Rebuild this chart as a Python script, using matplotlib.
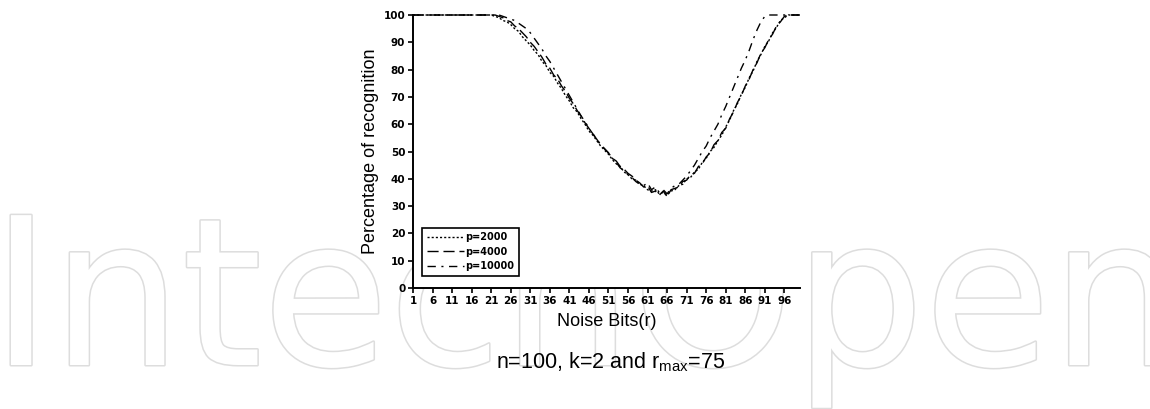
import numpy as np
import matplotlib.pyplot as plt
from matplotlib import patheffects as pe

# noise bits r = 1..100
noise_bits = list(range(1, 101))

p2000 = [100, 100, 100, 100, 100, 100, 100, 100, 100, 100,
         100, 100, 100, 100, 100, 100, 100, 100, 100, 100,
         100, 99.5, 99, 98, 97.5, 96.5, 95, 94, 92, 90.5,
         89, 87, 85.5, 83, 81.5, 79, 77.5, 75, 73, 70.5,
         68.5, 66, 64.5, 62, 60, 57.5, 56, 54, 52, 50.5,
         49, 47, 45.5, 44.5, 42.5, 41.5, 40, 39.5, 38, 37.5,
         36, 35.5, 36, 34.5, 35, 34, 35.5, 36, 37.5, 38,
         40, 40.5, 42.5, 43.5, 46, 47.5, 50, 51.5, 54, 56,
         59, 61.5, 65, 67.5, 71, 73.5, 77, 79.5, 83, 85.5,
         88.5, 90.5, 93.5, 95.5, 98, 99, 100, 100, 100, 100]

p4000 = [100, 100, 100, 100, 100, 100, 100, 100, 100, 100,
         100, 100, 100, 100, 100, 100, 100, 100, 100, 100,
         100, 100, 99.5, 99, 98, 97.5, 96, 95, 93.5, 92,
         90, 88.5, 86.5, 84.5, 82, 80.5, 78, 76.5, 74, 72,
         69.5, 67.5, 65, 63, 60.5, 58.5, 56.5, 54.5, 52.5, 51,
         49.5, 47.5, 46.5, 44.5, 43.5, 42, 41, 39.5, 38.5, 37,
         37.5, 35, 35.5, 34, 35.5, 33.5, 36, 36.5, 37, 39,
         39.5, 41.5, 42, 44.5, 45.5, 48, 49.5, 52.5, 54, 57,
         58.5, 62, 64.5, 68, 70.5, 74, 76.5, 80, 82.5, 86,
         88, 91, 93, 96, 97.5, 99.5, 100, 100, 100, 100]

p10000 = [100, 100, 100, 100, 100, 100, 100, 100, 100, 100,
          100, 100, 100, 100, 100, 100, 100, 100, 100, 100,
          100, 100, 100, 99.5, 99, 98.5, 98, 97, 96, 95,
          93.5, 91.5, 89.5, 87.5, 85, 83, 80.5, 78, 75.5, 73,
          70.5, 68, 65.5, 63, 61, 58.5, 56.5, 54.5, 52.5, 51,
          49.5, 47.5, 46, 44, 43, 41.5, 40.5, 39, 38, 37.5,
          38.5, 36, 37, 35, 36, 34.5, 36.5, 37.5, 38, 39.5,
          41, 43, 45, 47.5, 50, 52, 55, 57.5, 60, 63.5,
          66.5, 70, 73.5, 77, 80.5, 83.5, 87, 91, 94.5, 97.5,
          99.5, 100, 100, 100, 100, 100, 100, 100, 100, 100]

xtick_vals = list(range(1, 97, 5))
ytick_vals = list(range(0, 101, 10))

fig = plt.figure(figsize=(11.5, 4.09), dpi=100)
fig.patch.set_facecolor('white')

# faint outlined watermark behind everything
wm = fig.text(-0.008, 1-365/409, 'IntechOpen', fontsize=148, family='DejaVu Sans',
              color='white', va='baseline', zorder=0)
wm.set_path_effects([pe.Stroke(linewidth=2.2, foreground='#dddddd'), pe.Normal()])

ax = fig.add_axes([413/1150, 1-288/409, 387/1150, 273/409])
ax.set_facecolor('white')
ax.set_zorder(2)

ax.plot(noise_bits, p2000, color='black', lw=1.0, linestyle=(0, (1.5, 1.5)),
        label='p=2000', clip_on=False)
ax.plot(noise_bits, p4000, color='black', lw=1.0, linestyle=(0, (8, 3.5)),
        label='p=4000', clip_on=False)
ax.plot(noise_bits, p10000, color='black', lw=1.0, linestyle=(0, (6, 4, 1.5, 4)),
        label='p=10000', clip_on=False)

ax.set_xlim(1, 100)
ax.set_ylim(0, 100)
ax.spines['top'].set_visible(False)
ax.spines['right'].set_visible(False)
ax.spines['left'].set_linewidth(1.4)
ax.spines['bottom'].set_linewidth(1.4)
ax.set_xticks(xtick_vals)
ax.set_yticks(ytick_vals)
ax.tick_params(direction='out', length=3.5, width=1.2, labelsize=7.5, pad=2)
for lab in ax.get_xticklabels() + ax.get_yticklabels():
    lab.set_fontweight('bold')
    lab.set_family('Liberation Sans Narrow')

ax.set_xlabel('Noise Bits(r)', fontsize=13, family='Liberation Sans', labelpad=5)
ax.set_ylabel('Percentage of recognition', fontsize=13, family='Liberation Sans', labelpad=3)

leg = ax.legend(loc='lower left', bbox_to_anchor=(422/1150, 1-276/409),
                bbox_transform=fig.transFigure, borderaxespad=0, fancybox=False,
                edgecolor='black', framealpha=1, handlelength=3.8, handletextpad=0.1,
                labelspacing=0.45, borderpad=0.5,
                prop={'family': 'Liberation Sans Narrow', 'weight': 'bold', 'size': 7})
leg.get_frame().set_linewidth(1.2)

fig.text(611/1150, 1-368/409, r'n=100, k=2 and r$_{\mathregular{max}}$=75', fontsize=15.5,
         family='Liberation Sans', ha='center', va='baseline', zorder=3)

fig.savefig('out.png', dpi=100, facecolor='white')
